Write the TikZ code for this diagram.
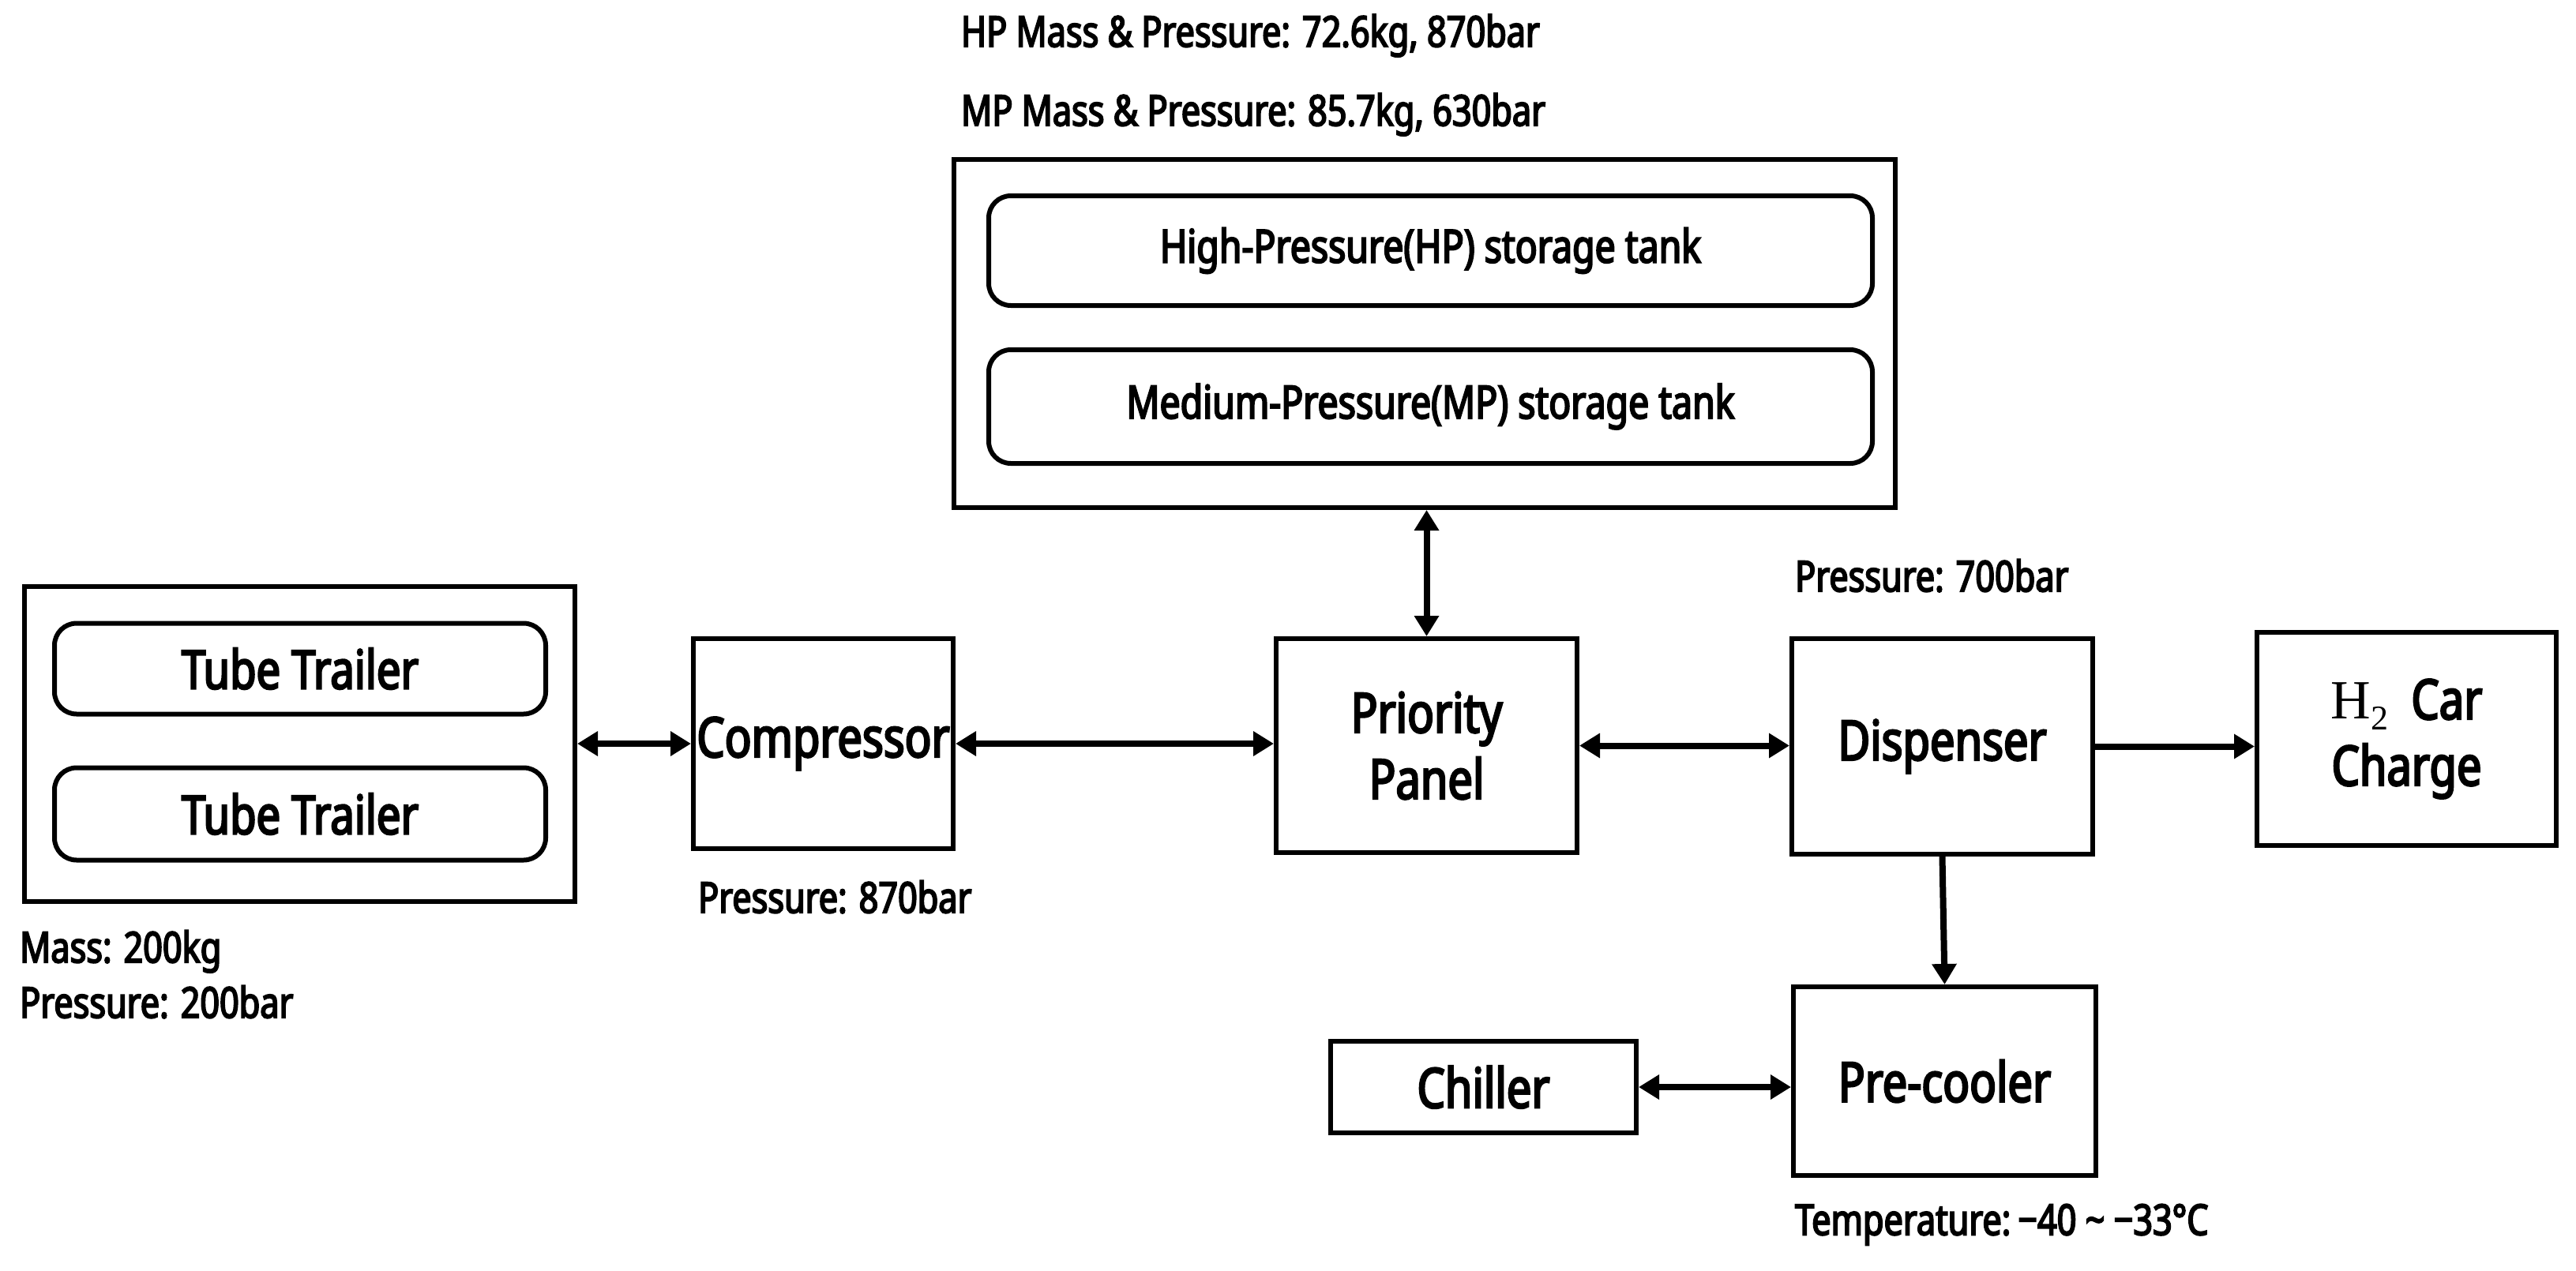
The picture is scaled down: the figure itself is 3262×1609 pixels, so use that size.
\documentclass[tikz,border=0pt]{standalone}
\usepackage{fontspec}
\setmainfont{Noto Sans}[FakeStretch=0.8]
\newfontfamily\bx{Noto Sans}[FakeStretch=0.8,FakeBold=3.5]
\newfontfamily\hser{Liberation Serif}
\usetikzlibrary{arrows.meta}
\begin{document}
\begin{tikzpicture}[x=1pt,y=-1pt,
  box/.style={draw,line width=6pt,inner sep=0pt},
  big/.style={font=\fontsize{70}{84}\bx,align=center},
  tank/.style={draw,line width=6pt,rounded corners=28pt,font=\fontsize{58}{68}\bx},
  lab/.style={anchor=north west,inner sep=0pt,font=\fontsize{54}{64}\bx,align=left},
  con/.style={line width=8pt,{Triangle[length=26pt,width=30pt]}-{Triangle[length=26pt,width=30pt]}},
  one/.style={line width=8pt,-{Triangle[length=26pt,width=30pt]}}]
\useasboundingbox (0,0) rectangle (3262,1609);
% tube trailers
\node[box,minimum width=697pt,minimum height=399pt] (tt) at (379.5,942.5) {};
\node[tank,minimum width=622pt,minimum height=115pt,font=\fontsize{68}{80}\bx] (t1) at (380,847) {Tube Trailer};
\node[tank,minimum width=622pt,minimum height=117pt,font=\fontsize{68}{80}\bx] (t2) at (380,1031) {Tube Trailer};
% compressor
\node[box,big,minimum width=329pt,minimum height=266pt] (comp) at (1042.5,942) {Compressor};
% priority
\node[box,big,minimum width=381pt,minimum height=271pt] (prio) at (1806.5,944.5) {Priority\\Panel};
% storage
\node[box,minimum width=1192pt,minimum height=441pt] (st) at (1804,422.5) {};
\node[tank,minimum width=1119pt,minimum height=139pt] (hp) at (1811.5,317.5) {High-Pressure(HP) storage tank};
\node[tank,minimum width=1119pt,minimum height=144pt] (mp) at (1811.5,515) {Medium-Pressure(MP) storage tank};
% dispenser
\node[box,big,minimum width=381pt,minimum height=273pt] (disp) at (2459.5,945.5) {Dispenser};
\node[box,big,minimum width=379pt,minimum height=270pt] (car) at (3047.5,936) {{\hser H\raisebox{-14pt}{\fontsize{44}{44}\selectfont 2}}\ \ Car\\Charge};
\node[box,big,minimum width=383pt,minimum height=239pt] (pre) at (2462.5,1369.5) {Pre-cooler};
\node[box,big,minimum width=387pt,minimum height=116pt] (chil) at (1878.5,1377) {Chiller};
% labels
\node[lab] (l1) at (1217,18) {HP Mass \& Pressure: 72.6kg, 870bar};
\node[lab] (l2) at (1217,118) {MP Mass \& Pressure: 85.7kg, 630bar};
\node[lab] (l3) at (2273,708) {Pressure: 700bar};
\node[lab] (l4) at (884,1115) {Pressure: 870bar};
\node[lab] (l5) at (25,1178) {Mass: 200kg\\[6pt]Pressure: 200bar};
\node[lab] (l6) at (2273,1525) {Temperature:\,−40 \textasciitilde\ −33°C};
% connectors
\draw[con] (tt.east |- comp.west) -- (comp.west);
\draw[con] (comp.east) -- (comp.east -| prio.west);
\draw[con] (prio.east) -- (prio.east -| disp.west);
\draw[one] (disp.east) -- (disp.east -| car.west);
\draw[con] (st.south -| prio.north) -- (prio.north);
\draw[one] (disp.south) -- (pre.north);
\draw[con] (chil.east) -- (chil.east -| pre.west);
\end{tikzpicture}
\end{document}
